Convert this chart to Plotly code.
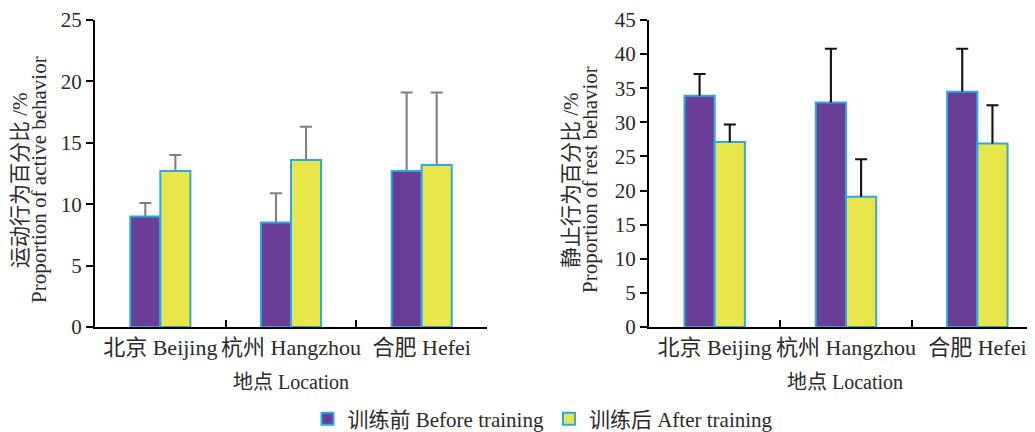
import plotly.graph_objects as go

locations = ["北京 Beijing", "杭州 Hangzhou", "合肥 Hefei"]
series_names = ["训练前 Before training", "训练后 After training"]

active_before = [9.0, 8.5, 12.7]
active_before_err = [1.1, 2.4, 6.4]
active_after = [12.7, 13.6, 13.2]
active_after_err = [1.3, 2.7, 5.9]

rest_before = [33.9, 32.9, 34.5]
rest_before_err = [3.2, 7.9, 6.3]
rest_after = [27.1, 19.1, 26.9]
rest_after_err = [2.6, 5.5, 5.6]

PURPLE = "#6a3d96"
YELLOW = "#e8e64a"
EDGE = "#29abe2"
FONT = "Liberation Serif, Noto Sans CJK SC, serif"
TXT = "#2a2a2a"

W, H = 1035, 432
OFF = 8  # page body margin offset compensation (px)
BAR_W = 0.23
STEM_W = 0.016


def px_x(p):
    return (p - OFF) / W


def px_y(p):
    return (H - (p - OFF)) / H


fig = go.Figure()


def add(x_ax, y_ax, vals, errs, color, name, err_color, show, side):
    # side: -1 for left bar of group, +1 for right bar
    offset = -BAR_W if side < 0 else 0.0
    fig.add_trace(go.Bar(
        x=locations, y=vals, name=name, xaxis=x_ax, yaxis=y_ax,
        width=BAR_W, offset=offset,
        marker=dict(color=color, line=dict(color=EDGE, width=2)),
        showlegend=show, legendgroup=name,
    ))
    # error bar stem (from top of bar upward) with a cap at its top
    center = offset + BAR_W / 2
    fig.add_trace(go.Bar(
        x=locations, y=errs, base=vals, xaxis=x_ax, yaxis=y_ax,
        width=STEM_W, offset=center - STEM_W / 2,
        marker=dict(color=err_color, line=dict(width=0)),
        error_y=dict(type="data", array=[0] * len(errs), arrayminus=[0] * len(errs),
                     color=err_color, thickness=2, width=6),
        showlegend=False, hoverinfo="skip", legendgroup=name,
    ))


add("x", "y", active_before, active_before_err, PURPLE, series_names[0], "#808080", True, -1)
add("x", "y", active_after, active_after_err, YELLOW, series_names[1], "#808080", True, 1)
add("x2", "y2", rest_before, rest_before_err, PURPLE, series_names[0], "#111111", False, -1)
add("x2", "y2", rest_after, rest_after_err, YELLOW, series_names[1], "#111111", False, 1)

ydom = [px_y(327), px_y(20)]
xax_common = dict(
    type="category", showline=True, linecolor="black", linewidth=2, automargin=False,
    ticks="inside", tickson="boundaries", ticklen=7, tickwidth=1.5, tickcolor="black",
    ticklabeloverflow="allow",
    tickangle=0, tickfont=dict(family=FONT, size=22, color=TXT), showgrid=False, zeroline=False,
)
yax_common = dict(
    showline=True, linecolor="black", linewidth=2, ticks="outside", ticklen=7, automargin=False,
    ticklabeloverflow="allow",
    tickwidth=1.5, tickcolor="black", tickfont=dict(family=FONT, size=21, color=TXT),
    showgrid=False, zeroline=False, dtick=5,
)

fig.update_layout(
    width=W, height=H, margin=dict(l=0, r=0, t=0, b=0, autoexpand=False),
    paper_bgcolor="white", plot_bgcolor="white",
    barmode="overlay",
    font=dict(family=FONT, size=18, color=TXT),
    xaxis=dict(domain=[px_x(95), px_x(487)], range=[-0.5, 2.5], anchor="y", **xax_common),
    yaxis=dict(domain=ydom, range=[0, 25], anchor="x", **yax_common),
    xaxis2=dict(domain=[px_x(649), 1.0], range=[-0.5, 2.5], anchor="y2", **xax_common),
    yaxis2=dict(domain=ydom, range=[0, 45], anchor="x2", **yax_common),
    legend=dict(orientation="h", x=px_x(543), xanchor="center", y=px_y(419), yanchor="middle",
                font=dict(family=FONT, size=21, color=TXT), itemwidth=30, traceorder="normal"),
)

ymid = px_y(180)
ann = [
    dict(x=px_x(20), y=ymid, text="运动行为百分比 /%", textangle=-90, size=21),
    dict(x=px_x(39), y=ymid, text="Proportion of active behavior", textangle=-90, size=21),
    dict(x=px_x(571), y=ymid, text="静止行为百分比 /%", textangle=-90, size=21),
    dict(x=px_x(590), y=ymid, text="Proportion of rest behavior", textangle=-90, size=21),
    dict(x=px_x(291), y=px_y(382), text="地点 Location", textangle=0, size=20),
    dict(x=px_x(845), y=px_y(382), text="地点 Location", textangle=0, size=20),
]
for a in ann:
    size = a.pop("size")
    fig.add_annotation(xref="paper", yref="paper", showarrow=False, xanchor="center",
                       yanchor="middle", font=dict(family=FONT, size=size, color=TXT), **a)

fig.write_html("out.html")
